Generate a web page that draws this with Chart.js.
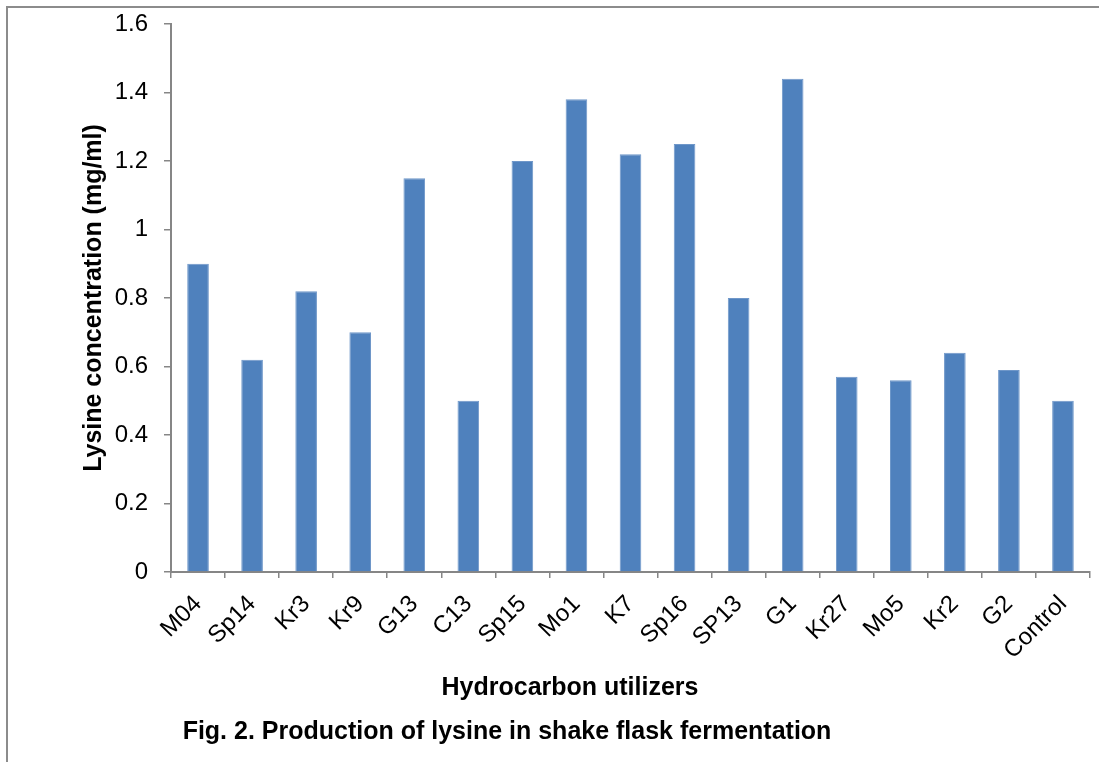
<!DOCTYPE html>
<html>
<head>
<meta charset="utf-8">
<script src="https://cdn.jsdelivr.net/npm/chart.js@4/dist/chart.umd.min.js"></script>
<style>
  html, body { margin: 0; padding: 0; background: #fff; }
  #wrap { position: relative; width: 1099px; height: 762px; overflow: hidden; }
  #frame { position: absolute; left: 6px; top: 6px; width: 1200px; height: 900px;
           border-top: 2px solid #8c8c8c; border-left: 2px solid #8c8c8c; }
  canvas { position: absolute; left: 0; top: 0; }
</style>
</head>
<body>
<div id="wrap">
  <div id="frame"></div>
  <canvas id="barChart" width="1099" height="762"></canvas>
</div>
<script>
    "use strict";

    // data
    var strains = ['M04', 'Sp14', 'Kr3', 'Kr9', 'G13', 'C13', 'Sp15', 'Mo1', 'K7',
                   'Sp16', 'SP13', 'G1', 'Kr27', 'Mo5', 'Kr2', 'G2', 'Control'];
    var lysine = [0.90, 0.62, 0.82, 0.70, 1.15, 0.50, 1.20, 1.38, 1.22,
                  1.25, 0.80, 1.44, 0.57, 0.56, 0.64, 0.59, 0.50];
    var yTicks = [0, 0.2, 0.4, 0.6, 0.8, 1, 1.2, 1.4, 1.6];

    var fontFamily = '"Liberation Sans", Arial, sans-serif';
    var axisGrey = '#868686';

    // titles under the axis, placed like the original figure
    var captionPlugin = {
        id: 'caption',
        afterDraw: function (chart) {
            var ctx = chart.ctx;
            ctx.save();
            ctx.fillStyle = '#000';
            ctx.font = 'bold 25px ' + fontFamily;
            ctx.textAlign = 'center';
            ctx.textBaseline = 'middle';
            ctx.fillText('Hydrocarbon utilizers', 570, 688);
            ctx.fillText('Fig. 2. Production of lysine in shake flask fermentation', 507, 732);
            ctx.restore();
        }
    };

    var ctx = document.getElementById('barChart').getContext('2d');
    var barChart = new Chart(ctx, {
        type: 'bar',
        data: {
            labels: strains,
            datasets: [{
                label: 'Lysine',
                data: lysine,
                backgroundColor: '#4f81bd',
                borderColor: '#6f97c9',
                borderWidth: 1,
                categoryPercentage: 1,
                barPercentage: 0.4
            }]
        },
        options: {
            responsive: false,
            animation: false,
            layout: { padding: { left: 10, top: 24, right: 9, bottom: 0 } },
            plugins: {
                legend: { display: false },
                tooltip: { enabled: false }
            },
            scales: {
                x: {
                    offset: true,
                    grid: {
                        offset: true,
                        drawOnChartArea: false,
                        drawTicks: true,
                        tickLength: 6,
                        color: axisGrey,
                        lineWidth: 1.5
                    },
                    border: { color: axisGrey, width: 2 },
                    ticks: {
                        color: '#000',
                        font: { family: fontFamily, size: 24 },
                        minRotation: 45,
                        maxRotation: 45,
                        padding: 12,
                        autoSkip: false
                    },
                    afterFit: function (scale) { scale.height = 190; }
                },
                y: {
                    min: 0,
                    max: 1.6,
                    afterBuildTicks: function (scale) {
                        scale.ticks = yTicks.map(function (v) { return { value: v }; });
                    },
                    grid: {
                        drawOnChartArea: false,
                        drawTicks: true,
                        tickLength: 7,
                        color: axisGrey,
                        lineWidth: 1.5
                    },
                    border: { color: axisGrey, width: 2 },
                    ticks: {
                        color: '#000',
                        font: { family: fontFamily, size: 24 },
                        padding: 16,
                        callback: function (value) { return String(+value.toFixed(1)); }
                    },
                    title: {
                        display: true,
                        text: 'Lysine concentration (mg/ml)',
                        color: '#000',
                        font: { family: fontFamily, size: 25, weight: 'bold' },
                        padding: { top: 69, bottom: 4 }
                    },
                    afterFit: function (scale) {
                        scale.width = 161;
                        scale.paddingTop = 0;
                        scale.paddingBottom = 0;
                    }
                }
            }
        },
        plugins: [captionPlugin]
    });
</script>
</body>
</html>
